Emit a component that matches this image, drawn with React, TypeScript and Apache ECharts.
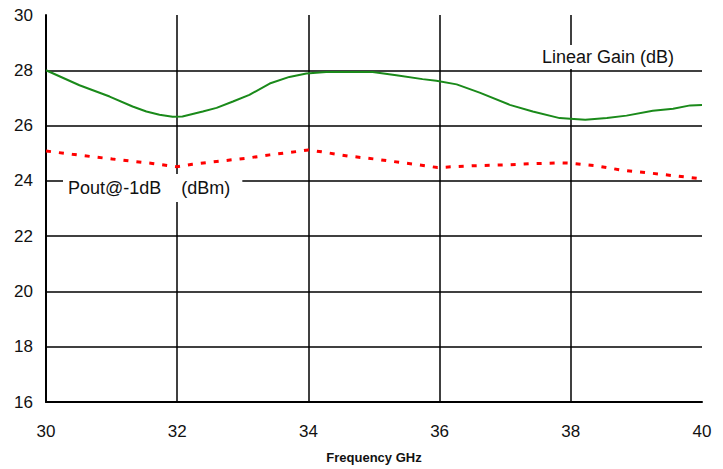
import React, { useEffect, useRef } from "react";
import * as echarts from "echarts";

const gainFreq = [30.0, 30.51, 30.97, 31.32, 31.53, 31.73, 31.93, 32.08, 32.39, 32.6, 32.85, 33.1, 33.41, 33.71, 33.97, 34.27, 34.98, 35.34, 35.74, 35.95, 36.26, 36.61, 37.07, 37.42, 37.83, 37.99, 38.22, 38.55, 38.85, 39.25, 39.56, 39.82, 40.0];
const gainValues = [28.0, 27.46, 27.05, 26.69, 26.51, 26.39, 26.32, 26.33, 26.51, 26.64, 26.87, 27.11, 27.52, 27.76, 27.88, 27.94, 27.94, 27.82, 27.68, 27.62, 27.49, 27.19, 26.75, 26.51, 26.27, 26.25, 26.21, 26.27, 26.36, 26.54, 26.61, 26.73, 26.74];

const poutFreq = [30.0, 30.4, 31.01, 31.62, 31.99, 32.23, 32.6, 33.06, 33.41, 33.82, 34.0, 34.2, 34.6, 35.01, 35.39, 35.59, 35.97, 36.2, 36.56, 37.02, 37.4, 37.8, 37.99, 38.37, 38.77, 39.18, 39.59, 40.0];
const poutValues = [25.08, 24.96, 24.79, 24.63, 24.51, 24.6, 24.7, 24.82, 24.94, 25.06, 25.12, 25.05, 24.9, 24.79, 24.67, 24.61, 24.48, 24.51, 24.55, 24.58, 24.62, 24.65, 24.64, 24.55, 24.39, 24.29, 24.18, 24.07];

const xMin = 30, xMax = 40, xStep = 2;
const yMin = 16, yMax = 30, yStep = 2;
const xAxisTitle = "Frequency GHz";
const gainLabel = "Linear Gain (dB)";
const poutLabel = "Pout@-1dB    (dBm)";

export default function App() {
  const ref = useRef<HTMLDivElement>(null);
  useEffect(() => {
    document.body.style.margin = "0";
    const chart = echarts.init(ref.current!, undefined, { renderer: "svg" });
    const font = "'Liberation Sans', Arial, sans-serif";
    chart.setOption({
      animation: false,
      backgroundColor: "#ffffff",
      grid: { left: 46, right: 21, top: 15, bottom: 61.5, containLabel: false },
      xAxis: {
        type: "value",
        min: xMin,
        max: xMax,
        interval: xStep,
        name: xAxisTitle,
        nameLocation: "middle",
        nameGap: 49,
        nameTextStyle: { fontFamily: font, fontSize: 13, fontWeight: "bold", color: "#111" },
        axisLine: { show: true, lineStyle: { color: "#000", width: 2 } },
        axisTick: { show: false },
        axisLabel: { fontFamily: font, fontSize: 17, color: "#111", margin: 21 },
        splitLine: { show: true, showMinLine: false, showMaxLine: false, lineStyle: { color: "#000", width: 1.5 } },
      },
      yAxis: {
        type: "value",
        min: yMin,
        max: yMax,
        interval: yStep,
        axisLine: { show: true, lineStyle: { color: "#000", width: 2 } },
        axisTick: { show: false },
        axisLabel: { fontFamily: font, fontSize: 17, color: "#111", margin: 13 },
        splitLine: { show: true, showMinLine: false, showMaxLine: false, lineStyle: { color: "#000", width: 1.5 } },
      },
      series: [
        {
          type: "line",
          name: "Linear Gain",
          data: gainFreq.map((f, i) => [f, gainValues[i]]),
          showSymbol: false,
          smooth: false,
          lineStyle: { color: "#1a8a1a", width: 2 },
          z: 5,
        },
        {
          type: "line",
          name: "Pout",
          data: poutFreq.map((f, i) => [f, poutValues[i]]),
          showSymbol: false,
          lineStyle: { color: "#ff0000", width: 3, type: [5, 8] },
          z: 5,
        },
      ],
      graphic: [
        {
          type: "text",
          left: 63,
          top: 174,
          z: 100,
          style: {
            text: poutLabel,
            font: `18px ${font}`,
            fill: "#111",
            backgroundColor: "#fff",
            padding: [5, 12, 5, 5],
          },
        },
        {
          type: "text",
          left: 539,
          top: 45,
          z: 100,
          style: {
            text: gainLabel,
            font: `18px ${font}`,
            fill: "#111",
            backgroundColor: "#fff",
            padding: [3, 3, 3, 3],
          },
        },
      ],
    });
    return () => chart.dispose();
  }, []);
  return <div ref={ref} style={{ width: 723, height: 469 }} />;
}
